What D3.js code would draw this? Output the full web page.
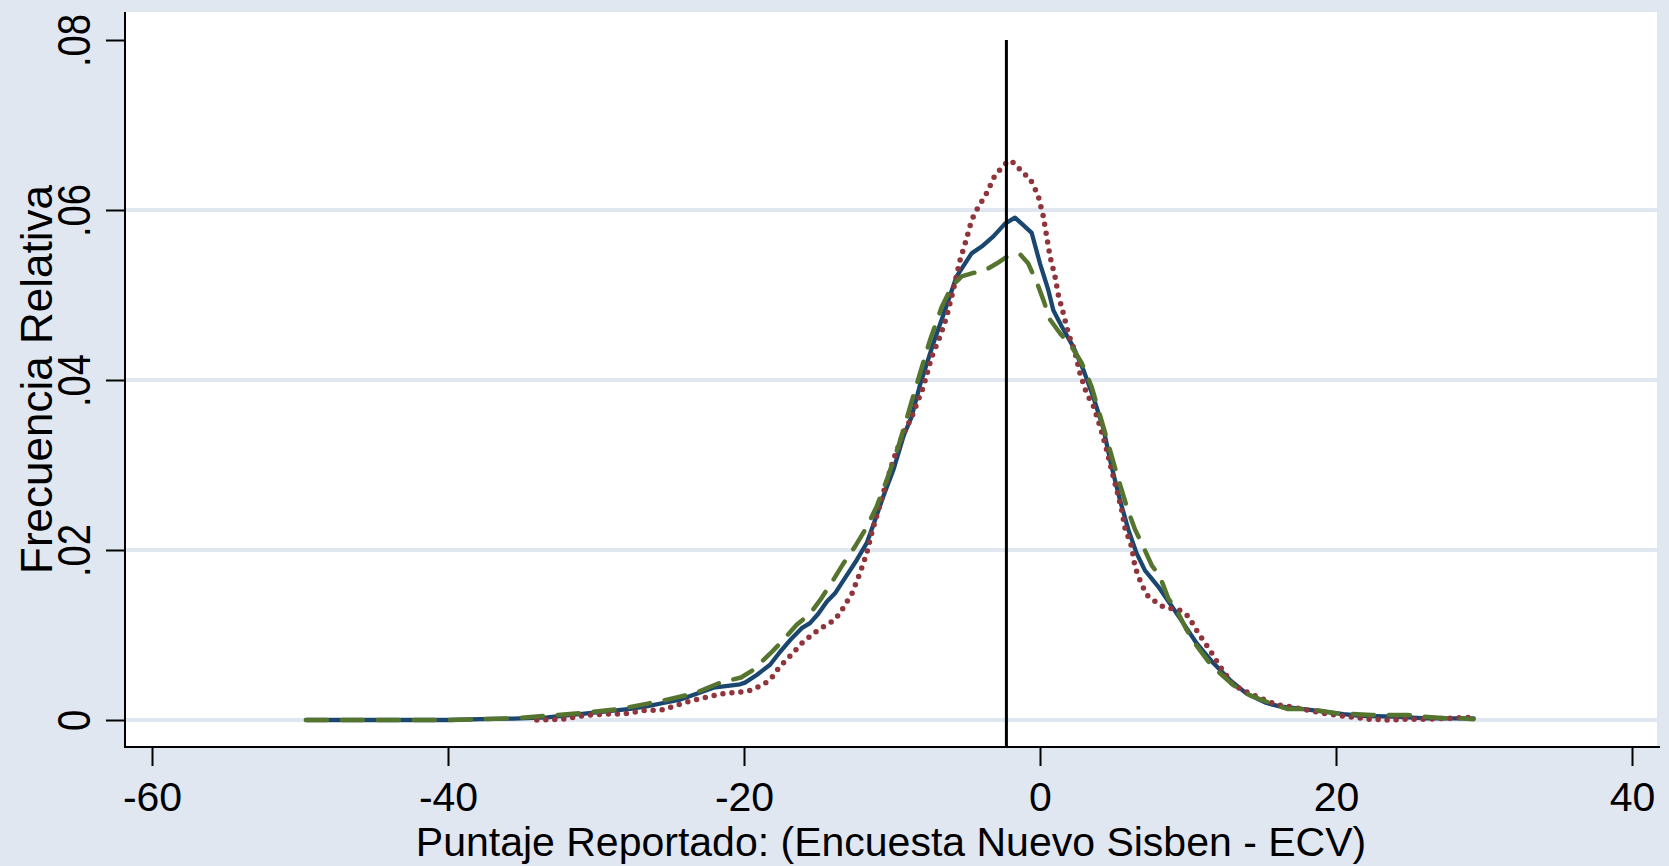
<!DOCTYPE html>
<html><head><meta charset="utf-8">
<script src="https://cdn.jsdelivr.net/npm/d3@7"></script>
<style>html,body{margin:0;padding:0;background:#e1e7f1;} svg{display:block}</style>
</head><body>
<svg id="chart" width="1669" height="866"></svg>
<script>
// ---------- data ----------
const xTicks = [-60, -40, -20, 0, 20, 40];
const xTickLabels = ["-60", "-40", "-20", "0", "20", "40"];
const yTicks = [0, 0.02, 0.04, 0.06, 0.08];
const yTickLabels = ["0", ".02", ".04", ".06", ".08"];
const yGrid = [0, 0.02, 0.04, 0.06];
const xTitle = "Puntaje Reportado: (Encuesta Nuevo Sisben - ECV)";
const yTitle = "Frecuencia Relativa";
const refLineX = -2.27;
const refLineTop = 0.08;

const blueX = [-49.6,-45,-40,-37.8,-35.6,-33.3,-31.1,-28.8,-27.7,-26.6,-25.45,-24.3,-23.2,-22.07,-20.27,-19.93,-19.14,-18.24,-17.57,-16.78,-16.1,-15.54,-14.98,-14.41,-13.85,-13.18,-12.39,-11.71,-11.15,-10.59,-9.91,-9.2,-8.67,-8.11,-7.21,-6.42,-5.63,-4.62,-3.94,-3.15,-2.36,-1.69,-1.24,-0.56,0,0.56,0.9,1.47,2.25,2.93,3.6,4.28,4.84,5.4,5.97,6.53,7.09,7.99,8.78,9.68,10.59,11.71,12.84,13.96,15.3,16.2,18.24,20.5,21.6,23.9,26.1,29.3];
const blueY = [0,0,0,0.0001,0.00016,0.0003,0.0007,0.0011,0.0013,0.0016,0.0020,0.0024,0.0031,0.0038,0.0042,0.0044,0.0053,0.0065,0.0080,0.0096,0.0108,0.0114,0.0125,0.0139,0.0149,0.0167,0.0188,0.0208,0.0235,0.0263,0.0294,0.0335,0.0357,0.0394,0.0443,0.0482,0.0522,0.0549,0.0557,0.0569,0.0584,0.0591,0.0584,0.0573,0.0537,0.0506,0.0482,0.0463,0.0439,0.0412,0.0380,0.0343,0.0298,0.0259,0.0224,0.0196,0.0176,0.0157,0.0137,0.0114,0.0090,0.0067,0.0047,0.0031,0.0020,0.0016,0.0012,0.0007,0.0005,0.0004,0.0002,0.0002];

const redX = [-34,-32.2,-30.9,-29.5,-28.2,-26.8,-25.45,-24.1,-22.75,-21.4,-20.2,-19.5,-18.8,-18.24,-17.57,-16.9,-16.0,-14.98,-13.85,-13.4,-12.7,-12.16,-11.71,-11.37,-10.92,-10.47,-9.91,-9.24,-8.7,-7.88,-7.32,-6.76,-6.31,-5.86,-5.4,-4.95,-4.62,-4.28,-3.6,-3.04,-2.14,-1.69,-1.24,-0.68,-0.34,-0.11,0.23,0.45,0.68,1.01,1.24,1.58,1.91,2.36,2.7,3.15,3.6,4.1,4.5,4.84,5.18,5.52,5.74,6.19,6.42,6.87,7.32,8.33,9.46,10.02,10.7,11.49,12.16,13.06,13.96,14.86,16.0,16.8,18.0,19.4,20.8,22.2,23.5,24.9,26.2,27.6,28.9,29.3];
const redY = [0,0.0001,0.0005,0.0007,0.0007,0.0011,0.0012,0.0020,0.0026,0.0031,0.0033,0.0035,0.0041,0.0047,0.0063,0.0075,0.0092,0.0106,0.0118,0.0129,0.0149,0.0173,0.0196,0.0220,0.0247,0.0274,0.0306,0.0337,0.0355,0.0392,0.0427,0.0451,0.0474,0.0506,0.0541,0.0567,0.0588,0.0600,0.0620,0.0641,0.0658,0.0655,0.0645,0.0637,0.0625,0.0616,0.0592,0.0569,0.0545,0.0522,0.0500,0.0478,0.0455,0.0433,0.0408,0.0384,0.0370,0.0343,0.0318,0.0294,0.0271,0.0247,0.0226,0.0204,0.0180,0.0159,0.0145,0.0133,0.0129,0.0122,0.0102,0.0082,0.0063,0.0041,0.0033,0.0026,0.0018,0.0016,0.0012,0.0007,0.0004,0.0001,0,0.0001,0.0001,0.0002,0.0003,0.0003];

const greenX = [-49.6,-45,-40,-37.8,-35.6,-33.3,-31.1,-28.4,-26.6,-25.2,-23.4,-21.6,-20.2,-19.37,-18.24,-17.57,-16.44,-15.54,-14.86,-13.96,-13.29,-12.5,-11.71,-11.04,-10.36,-9.57,-9.0,-8.33,-7.43,-6.64,-5.97,-5.29,-4.5,-3.72,-2.93,-2.25,-1.58,-1.35,-0.79,-0.11,0.23,0.68,1.35,2.14,2.82,3.49,4.28,5.18,5.86,6.42,6.87,7.55,8.1,8.67,9.24,9.91,10.47,11.37,12.16,13.06,14.19,15.54,16.7,18.2,20.0,22.4,24.8,25.9,27.5,28.4,29.3];
const greenY = [0,0,0,0.0001,0.0002,0.0005,0.0008,0.0013,0.0019,0.0024,0.0031,0.0044,0.0050,0.0059,0.0078,0.0090,0.0112,0.0125,0.0141,0.0165,0.0184,0.0204,0.0227,0.0251,0.0282,0.0322,0.0355,0.0395,0.0447,0.0486,0.0510,0.0522,0.0526,0.0529,0.0537,0.0545,0.0548,0.0548,0.0537,0.0510,0.0494,0.0471,0.0455,0.0439,0.0420,0.0392,0.0345,0.0290,0.0251,0.0224,0.0208,0.0182,0.0169,0.0143,0.0129,0.0106,0.0090,0.0069,0.0055,0.0041,0.0029,0.0020,0.0013,0.0013,0.0008,0.0006,0.0006,0.0004,0.0002,0.0002,0.0001];

// ---------- layout ----------
const W = 1669, H = 866;
const plot = {left: 125, right: 1657, top: 12, bottom: 747};
const FONT = "'Liberation Sans', Arial, Helvetica, sans-serif";
const bg = "#e1e7f1";

const svg = d3.select("#chart");
const x = d3.scaleLinear().domain([-60, 40]).range([152, 1632]);
const y = d3.scaleLinear().domain([0, 0.08]).range([720, 40]);

svg.append("rect").attr("width", W).attr("height", H).attr("fill", bg);
svg.append("rect").attr("x", plot.left).attr("y", plot.top)
  .attr("width", plot.right - plot.left).attr("height", plot.bottom - plot.top)
  .attr("fill", "#ffffff");

// gridlines
svg.append("g").selectAll("line").data(yGrid).join("line")
  .attr("x1", plot.left).attr("x2", plot.right)
  .attr("y1", d => y(d)).attr("y2", d => y(d))
  .attr("stroke", bg).attr("stroke-width", 4);

// curves
const line = d3.line().x(d => x(d[0])).y(d => y(d[1]));
const zip = (a, b) => a.map((v, i) => [v, b[i]]);
const series = [
  {data: zip(blueX, blueY), color: "#1a476f", width: 4.3, dash: null, cap: "round"},
  {data: zip(redX, redY), color: "#90353b", width: 5.5, dash: "0 9", cap: "round"},
  {data: zip(greenX, greenY), color: "#55752f", width: 4.5, dash: "21 15", cap: "round"}
];
svg.append("g").selectAll("path").data(series).join("path")
  .attr("d", d => line(d.data))
  .attr("fill", "none")
  .attr("stroke", d => d.color)
  .attr("stroke-width", d => d.width)
  .attr("stroke-linecap", d => d.cap)
  .attr("stroke-linejoin", "round")
  .attr("stroke-dasharray", d => d.dash);

// reference line
svg.append("line")
  .attr("x1", x(refLineX)).attr("x2", x(refLineX))
  .attr("y1", y(refLineTop)).attr("y2", plot.bottom)
  .attr("stroke", "#000").attr("stroke-width", 3);

// x axis
const gx = svg.append("g").attr("transform", `translate(0,${plot.bottom})`)
  .call(d3.axisBottom(x).tickValues(xTicks).tickSize(19).tickSizeOuter(0)
    .tickFormat((d, i) => xTickLabels[i]));
gx.select(".domain").remove();
gx.selectAll(".tick line").attr("stroke", "#000").attr("stroke-width", 2);
gx.selectAll(".tick text").attr("y", 64).attr("dy", null)
  .attr("fill", "#000").style("font-family", FONT).style("font-size", "41px");
svg.append("line").attr("x1", plot.left - 1).attr("x2", plot.right + 3)
  .attr("y1", plot.bottom).attr("y2", plot.bottom)
  .attr("stroke", "#000").attr("stroke-width", 2);

// y axis
const gy = svg.append("g").attr("transform", `translate(${plot.left},0)`)
  .call(d3.axisLeft(y).tickValues(yTicks).tickSize(19).tickSizeOuter(0)
    .tickFormat((d, i) => yTickLabels[i]));
gy.select(".domain").remove();
gy.selectAll(".tick line").attr("stroke", "#000").attr("stroke-width", 2);
gy.selectAll(".tick text")
  .attr("x", 0).attr("dy", null)
  .attr("transform", "translate(-35,0) rotate(-90) scale(0.83,1)")
  .attr("text-anchor", "middle")
  .attr("fill", "#000").style("font-family", FONT).style("font-size", "46px");
svg.append("line").attr("x1", plot.left).attr("x2", plot.left)
  .attr("y1", plot.top).attr("y2", plot.bottom + 1)
  .attr("stroke", "#000").attr("stroke-width", 2);

// titles
svg.append("text").text(xTitle)
  .attr("x", (plot.left + plot.right) / 2).attr("y", 856)
  .attr("text-anchor", "middle").attr("fill", "#000")
  .style("font-family", FONT).style("font-size", "41px");
svg.append("text").text(yTitle)
  .attr("transform", `translate(52,${(plot.top + plot.bottom) / 2}) rotate(-90)`)
  .attr("text-anchor", "middle").attr("fill", "#000")
  .style("font-family", FONT).style("font-size", "44px");
</script>
</body></html>
